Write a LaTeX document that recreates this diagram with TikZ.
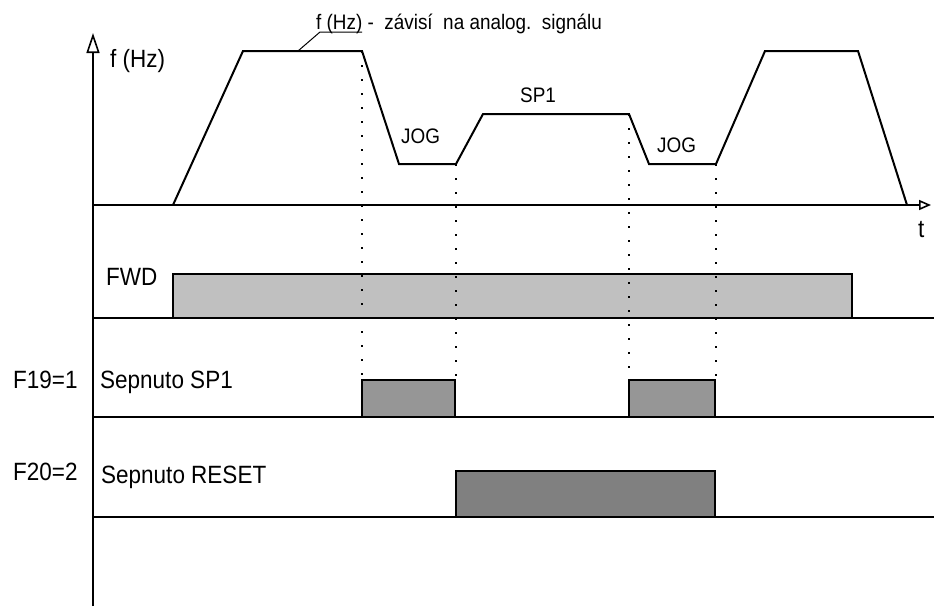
\documentclass[tikz,border=0pt]{standalone}
\usepackage{fontspec}
\setmainfont{Liberation Sans}
\newfontfamily\narrowfont[FakeStretch=0.9]{Liberation Sans}
\usetikzlibrary{arrows.meta}
\begin{document}
\begin{tikzpicture}[x=1pt,y=-1pt,
  axis/.style={line width=2pt},
  curve/.style={line width=2pt,line join=miter},
  sig/.style={draw=black,line width=1.7pt},
  vline/.style={line width=1.3pt,dash pattern=on 2pt off 12pt},
  big/.style={font=\narrowfont\fontsize{25}{28}\selectfont,inner sep=0pt,anchor=base west},
  small/.style={font=\narrowfont\fontsize{21}{24}\selectfont,inner sep=0pt,anchor=base west}]
\useasboundingbox (0,0) rectangle (934,606);
\definecolor{fwdgray}{RGB}{192,192,192}
\definecolor{spgray}{RGB}{150,150,150}
\definecolor{rsgray}{RGB}{128,128,128}
% coordinates
\coordinate (ybot) at (93,606);
\coordinate (ytop) at (93,33);
\coordinate (x0) at (93,205);
\coordinate (xend) at (931,205);
\coordinate (l1a) at (93,318); \coordinate (l1b) at (934,318);
\coordinate (l2a) at (93,417); \coordinate (l2b) at (934,417);
\coordinate (l3a) at (93,517); \coordinate (l3b) at (934,517);
\coordinate (c0) at (173,205);
\coordinate (c1) at (243,51);
\coordinate (c2) at (362,51);
\coordinate (c3) at (399,164);
\coordinate (c4) at (456,164);
\coordinate (c5) at (483,114);
\coordinate (c6) at (629,114);
\coordinate (c7) at (649,164);
\coordinate (c8) at (716,164);
\coordinate (c9) at (765,51);
\coordinate (c10) at (858,51);
\coordinate (c11) at (907,205);
\coordinate (ld0) at (298,51);
\coordinate (ld1) at (320,32);
\coordinate (ld2) at (362,32);
% boxes
\filldraw[sig,fill=fwdgray] (173,318) -- (173,274) -- (852,274) -- (852,318);
\filldraw[sig,fill=spgray] (362,417) -- (362,380) -- (455,380) -- (455,417);
\filldraw[sig,fill=spgray] (629,417) -- (629,380) -- (715,380) -- (715,417);
\filldraw[sig,fill=rsgray] (456,517) -- (456,471) -- (715,471) -- (715,517);
% dotted guides
\draw[vline] (c2) -- (362,380);
\draw[vline] (c4) -- (456,380);
\draw[vline] (c6) -- (629,380);
\draw[vline] (c8) -- (716,380);
% axes
\draw[axis,-{Triangle[open,length=20pt,width=13pt,line width=1.6pt]}] (ybot) -- (ytop);
\draw[axis,-{Triangle[open,length=12pt,width=10pt,line width=1.6pt]}] (x0) -- (xend);
\draw[axis] (l1a) -- (l1b);
\draw[axis] (l2a) -- (l2b);
\draw[axis] (l3a) -- (l3b);
% curve
\draw[curve] (c0) -- (c1) -- (c2) -- (c3) -- (c4) -- (c5) -- (c6) -- (c7) -- (c8) -- (c9) -- (c10) -- (c11);
% leader
\draw[line width=1pt] (ld0) -- (ld1) -- (ld2);
% labels
\node[small] (top) at (316,29) {f (Hz) -\ \ závisí\ \ na analog.\ \ signálu};
\node[big] (fhz) at (110,67) {f (Hz)};
\node[big] (t) at (918,237) {t};
\node[big] (fwd) at (106,285) {FWD};
\node[big] (f19) at (13,388) {F19=1};
\node[big] (sp1l) at (100,388) {Sepnuto SP1};
\node[big] (f20) at (13,480) {F20=2};
\node[big] (rsl) at (101,483) {Sepnuto RESET};
\node[small] (jog1) at (401,143) {JOG};
\node[small] (sp1) at (520,102) {SP1};
\node[small] (jog2) at (657,152) {JOG};
\end{tikzpicture}
\end{document}
